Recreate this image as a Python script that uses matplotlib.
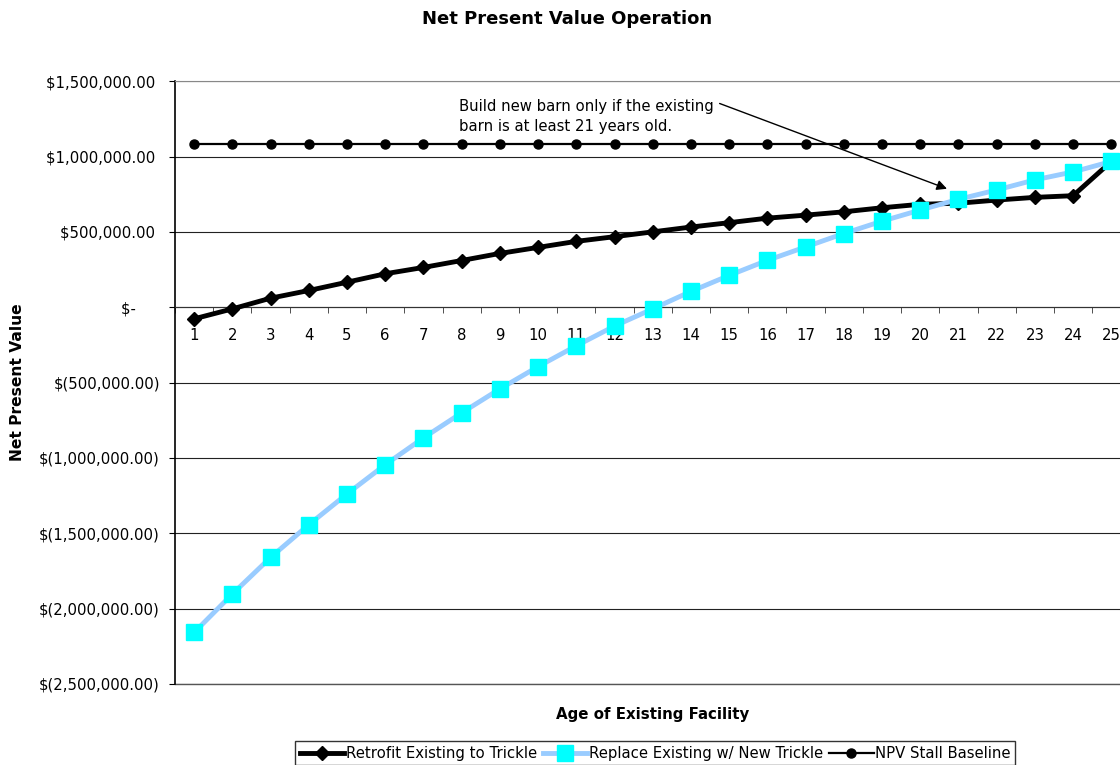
import matplotlib
matplotlib.use("Agg")
import matplotlib.pyplot as plt
from matplotlib.ticker import FuncFormatter, MultipleLocator

# valores
idades = list(range(1, 26))
retrofit = [-77000, -11000, 60000, 111000, 166000, 222000, 264000, 310000, 357000, 397000,
            437000, 468000, 500000, 532000, 561000, 591000, 611000, 633000, 660000, 683000,
            690000, 711000, 729000, 740000, 967000]
replace = [-2158000, -1903000, -1660000, -1443000, -1239000, -1045000, -867000, -701000,
           -542000, -394000, -256000, -125000, -11000, 105000, 211000, 311000, 400000,
           489000, 571000, 645000, 716000, 778000, 845000, 898000, 967000]
baseline = [1080000] * 25

nomes = ['Retrofit Existing to Trickle', 'Replace Existing w/ New Trickle', 'NPV Stall Baseline']
nota = 'Build new barn only if the existing\nbarn is at least 21 years old.'


def moeda(v, pos):
    if abs(v) < 1:
        return '$-     '
    if v < 0:
        return '$({:,.2f})'.format(-v)
    return '${:,.2f} '.format(v)


plt.rcParams['font.family'] = ['DejaVu Sans']

fig = plt.figure(figsize=(11.2, 7.65), dpi=100)
ax = fig.add_axes([0.1563, 0.1059, 0.853, 0.788])

ax.plot(idades, retrofit, color='black', lw=3.5, marker='D', ms=7.5, zorder=3)
ax.plot(idades, replace, color='#99CCFF', lw=3.5, marker='s', ms=12,
        markerfacecolor='#00FFFF', markeredgecolor='#00FFFF', zorder=4)
ax.plot(idades, baseline, color='black', lw=1.6, marker='o', ms=6.5, zorder=5)

ax.set_xlim(0.5, 25.5)
ax.set_ylim(-2500000, 1500000)
ax.yaxis.set_major_locator(MultipleLocator(500000))
ax.yaxis.set_major_formatter(FuncFormatter(moeda))
ax.grid(axis='y', color='#222222', lw=0.8)
ax.set_axisbelow(True)
# linha de baixo da area do grafico
ax.axhline(-2500000, color='#555555', lw=1, clip_on=False, zorder=1)

ax.set_xticks(idades)
ax.set_xticks([i + 0.5 for i in range(0, 26)], minor=True)
ax.tick_params(axis='x', which='major', length=0, pad=15, labelsize=10.7)
ax.tick_params(axis='x', which='minor', length=4.5, direction='out', color='#333333')
ax.tick_params(axis='y', length=4, direction='out', pad=7, labelsize=10.7)

ax.spines['bottom'].set_position(('data', 0))
ax.spines['bottom'].set_color('#333333')
ax.spines['top'].set_color('#888888')
ax.spines['right'].set_visible(False)
ax.spines['left'].set_linewidth(1.2)

ax.set_ylabel('Net Present Value', fontweight='bold', fontsize=11.2)
ax.yaxis.set_label_coords(-0.157, 0.5)
ax.set_xlabel('Age of Existing Facility', fontweight='bold', fontsize=10.8)
ax.xaxis.set_label_coords(0.5, -0.038)

fig.text(0.506, 0.975, 'Net Present Value Operation', ha='center', va='center',
         fontweight='bold', fontsize=13)

ax.text(7.92, 1266000, nota, ha='left', va='center', fontsize=10.7, linespacing=1.4)
ax.annotate('', xy=(20.7, 786000), xytext=(14.75, 1352000),
            arrowprops=dict(arrowstyle='-|>', color='black', lw=1, mutation_scale=15,
                            shrinkA=0, shrinkB=0))

leg = fig.legend(nomes, loc='upper center', bbox_to_anchor=(0.585, 0.031), ncol=3,
                 fontsize=10.7, frameon=True, fancybox=False, edgecolor='black',
                 handlelength=3.0, handletextpad=0.1, columnspacing=0.4, borderpad=0.3,
                 borderaxespad=0)
leg.get_frame().set_linewidth(1)

fig.savefig('out.png', dpi=100)
